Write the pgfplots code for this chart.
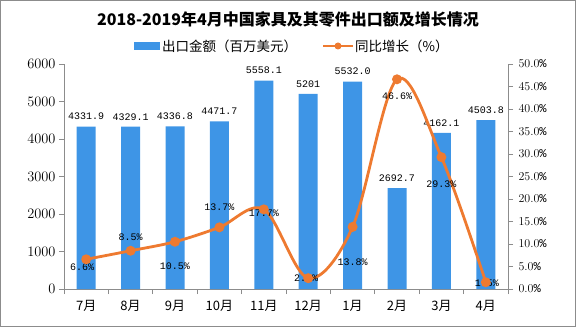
\documentclass[border=0pt]{standalone}
\usepackage{pgfplots}
\pgfplotsset{compat=1.18}
\usepackage{fontspec}
\setmainfont{Liberation Sans}
\newfontfamily\cjk{Noto Sans CJK SC}
\newfontfamily\mono{Liberation Mono}
\definecolor{barblue}{HTML}{3E95E6}
\definecolor{lineorange}{HTML}{EE7A30}
\definecolor{axgray}{HTML}{8C8C8C}
\begin{document}
\begin{tikzpicture}[x=1pt,y=1pt]
\draw[axgray, line width=1pt] (0.5,0.5) rectangle (575.5,326.5);
\node[font=\cjk\bfseries\fontsize{16}{18}\selectfont] at (288,308) {2018-2019年4月中国家具及其零件出口额及增长情况};
% legend
\fill[barblue] (134,277) rectangle (160,285);
\node[anchor=west, font=\cjk\fontsize{13.5}{15}\selectfont, inner sep=1pt] at (161,281) {出口金额（百万美元）};
\draw[lineorange, line width=2.5pt] (323,281) -- (353,281);
\fill[lineorange] (338,281) circle (3.5);
\node[anchor=west, font=\cjk\fontsize{13.5}{15}\selectfont, inner sep=1pt] at (354,281) {同比增长（\%）};
\begin{axis}[at={(64pt,38pt)}, anchor=south west, scale only axis,
  width=444pt, height=225pt,
  xmin=-0.5, xmax=9.5, ymin=0, ymax=6000,
  ytick={0,1000,...,6000},
  axis x line*=bottom, axis y line*=left,
  axis line style={axgray, line width=0.8pt},
  tick style={axgray, line width=0.8pt},
  tick align=outside, major tick length=5pt,
  y tick label style={font=\fontsize{13.5}{15}\selectfont},
  yticklabel style={/pgf/number format/.cd, fixed, 1000 sep={}},
  xtick={-0.5,0.5,...,9.5},
  xticklabels={},
  extra x ticks={0,...,9},
  extra x tick labels={7月,8月,9月,10月,11月,12月,1月,2月,3月,4月},
  extra x tick style={major tick length=0pt, tick label style={font=\cjk\fontsize{13}{15}\selectfont, yshift=-8pt}},
  ybar, bar width=19pt,
  nodes near coords,
  nodes near coords style={font=\mono\fontsize{10}{12}\selectfont, black, anchor=south, yshift=3pt},
  point meta=explicit symbolic,
  clip=false,
]
\addplot[fill=barblue, draw=none] coordinates {
(0,4331.9) [4331.9] (1,4329.1) [4329.1] (2,4336.8) [4336.8] (3,4471.7) [4471.7] (4,5558.1) [5558.1]
(5,5201) [5201] (6,5532.0) [5532.0] (7,2692.7) [2692.7] (8,4162.1) [4162.1] (9,4503.8) [4503.8]};
\end{axis}
\begin{axis}[at={(64pt,38pt)}, anchor=south west, scale only axis,
  width=444pt, height=225pt,
  xmin=-0.5, xmax=9.5, ymin=0, ymax=50,
  ytick={0,5,...,50},
  axis x line=none, axis y line*=right,
  axis line style={axgray, line width=0.8pt},
  tick style={axgray, line width=0.8pt},
  tick align=outside, major tick length=5pt,
  yticklabel={\pgfmathprintnumber[fixed, fixed zerofill, precision=1]{\tick}\%},
  y tick label style={font=\mono\fontsize{12}{14}\selectfont, xshift=2pt},
  clip=false,
]
\addplot[lineorange, line width=2.8pt, smooth, tension=0.55, mark=*, mark size=3.5pt, mark options={fill=lineorange, draw=lineorange}] coordinates {
(0,6.6) (1,8.5) (2,10.5) (3,13.7) (4,17.7) (5,2.4) (6,13.8) (7,46.6) (8,29.3) (9,1.5)};
\begin{scope}[every node/.style={font=\mono\fontsize{10}{12}\selectfont, black, inner sep=1pt}]
\node[xshift=-4pt, yshift=-8pt] at (axis cs:0,6.6) {6.6\%};
\node[yshift=14pt] at (axis cs:1,8.5) {8.5\%};
\node[yshift=-24pt] at (axis cs:2,10.5) {10.5\%};
\node[yshift=20pt] at (axis cs:3,13.7) {13.7\%};
\node[yshift=-4pt] at (axis cs:4,17.7) {17.7\%};
\node[xshift=-2pt] at (axis cs:5,2.4) {2.4\%};
\node[yshift=-35pt] at (axis cs:6,13.8) {13.8\%};
\node[yshift=-17pt] at (axis cs:7,46.6) {46.6\%};
\node[yshift=-27pt] at (axis cs:8,29.3) {29.3\%};
\node[xshift=1pt, yshift=-1pt] at (axis cs:9,1.5) {1.5\%};
\end{scope}
\end{axis}
\end{tikzpicture}
\end{document}
